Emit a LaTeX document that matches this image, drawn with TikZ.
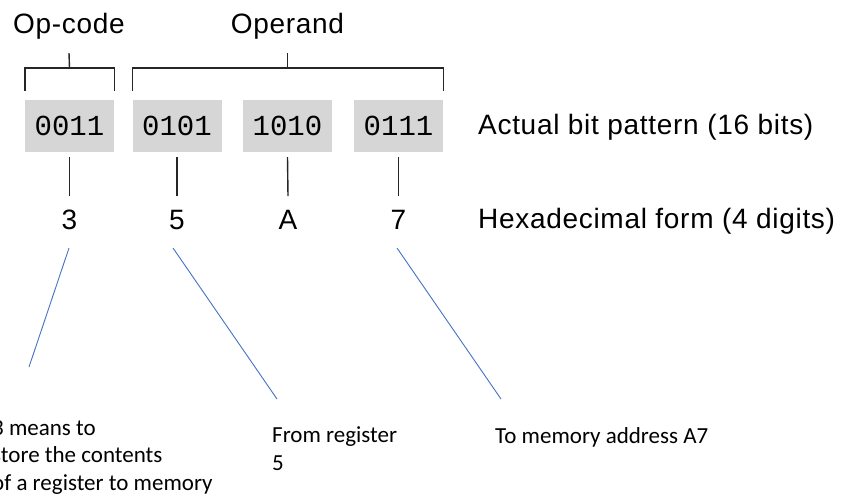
\documentclass[tikz,border=0pt]{standalone}
\usepackage{fontspec}
\setmainfont{Liberation Sans}
\newfontfamily\labelfont{Liberation Sans}[LetterSpace=2.5]
\newfontfamily\bitfont{Liberation Mono}
\newfontfamily\notefont{Carlito}
\definecolor{boxgray}{RGB}{214,214,214}
\definecolor{noteblue}{RGB}{68,114,196}
\tikzset{
  bitbox/.style={fill=boxgray, minimum width=89pt, minimum height=52pt, inner sep=0pt,
    font=\bitfont\fontsize{29}{34}\selectfont},
  hexdigit/.style={inner sep=0pt, anchor=base, font=\labelfont\fontsize{28}{32}\selectfont},
  fieldlabel/.style={inner sep=0pt, anchor=base, font=\labelfont\fontsize{28}{32}\selectfont},
  rowlabel/.style={inner sep=0pt, anchor=base west, font=\labelfont\fontsize{28}{32}\selectfont},
  note/.style={inner sep=0pt, anchor=base west, align=left, font=\notefont\fontsize{23}{27.5}\selectfont},
  rule/.style={line width=1.4pt, black!85},
  pointer/.style={line width=0.9pt, noteblue}
}
\begin{document}
\begin{tikzpicture}[x=1pt, y=-1pt]
\useasboundingbox (0,0) rectangle (850,496);

% the four nibbles of the instruction
\node[bitbox] (b1) at (69.5,126) {0011};
\node[bitbox] (b2) at (177,126) {0101};
\node[bitbox] (b3) at (287.5,126) {1010};
\node[bitbox] (b4) at (398.5,126) {0111};

% field names
\node[fieldlabel] (op) at (69,33) {Op-code};
\node[fieldlabel] (opd) at (287.5,33) {Operand};

% brackets grouping the fields
\draw[rule] ([yshift=9pt]b1.north west) -- ([yshift=32pt]b1.north west)
  -- ([yshift=32pt]b1.north east) -- ([yshift=9pt]b1.north east);
\draw[rule] ([yshift=32pt]b1.north) -- ([yshift=-14pt]op.south);
\draw[rule] ([yshift=9pt]b2.north west) -- ([yshift=32pt]b2.north west)
  -- ([yshift=32pt]b4.north east) -- ([yshift=9pt]b4.north east);
\draw[rule] ([yshift=32pt]b3.north) -- ([yshift=-14pt]opd.south);

% hexadecimal digits
\node[hexdigit] (h1) at (69.5,229) {3};
\node[hexdigit] (h2) at (177,229) {5};
\node[hexdigit] (h3) at (288,229) {A};
\node[hexdigit] (h4) at (398.5,229) {7};

\foreach \i in {1,2,3,4}
  \draw[rule] ([yshift=-5pt]b\i.south) -- ([yshift=13.5pt]h\i.north);

% row descriptions
\node[rowlabel] (bitrow) at (478,134) {Actual bit pattern (16 bits)};
\node[rowlabel] (hexrow) at (478,228) {Hexadecimal form (4 digits)};

% explanatory notes (anchored on the baseline of their last line)
\node[note] (n1) at (-8,490) {3 means to\\store the contents\\of a register to memory};
\node[note] (n2) at (272,470) {From register\\5};
\node[note] (n3) at (495,443) {To memory address A7};

% pointers from the digits to the notes
\coordinate (p1a) at (69,248);  \coordinate (p1b) at (29,367);
\coordinate (p2a) at (173,248); \coordinate (p2b) at (277,399);
\coordinate (p3a) at (397,248); \coordinate (p3b) at (501,399);
\draw[pointer] (p1a) -- (p1b);
\draw[pointer] (p2a) -- (p2b);
\draw[pointer] (p3a) -- (p3b);
\end{tikzpicture}
\end{document}
